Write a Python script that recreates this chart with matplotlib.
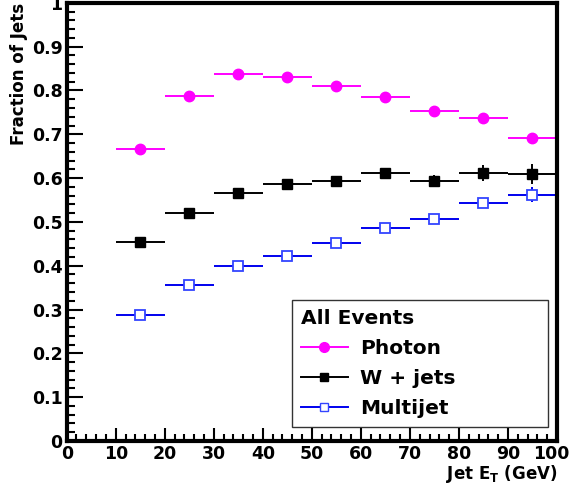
import numpy as np
import matplotlib.pyplot as plt
from matplotlib.lines import Line2D
from matplotlib.ticker import MultipleLocator

plt.rcParams['font.family'] = ['DejaVu Sans']
plt.rcParams['font.weight'] = 'bold'

# bin centres (GeV) and half widths
jet_et = [15, 25, 35, 45, 55, 65, 75, 85, 95]
bin_half = [5, 5, 5, 5, 5, 5, 5, 5, 5]

photon = [0.666, 0.787, 0.837, 0.831, 0.810, 0.785, 0.752, 0.737, 0.692]
photon_err = [0.004, 0.004, 0.004, 0.004, 0.004, 0.005, 0.005, 0.006, 0.007]

wjets = [0.455, 0.520, 0.566, 0.586, 0.594, 0.611, 0.594, 0.611, 0.609]
wjets_err = [0.006, 0.006, 0.007, 0.008, 0.009, 0.010, 0.012, 0.018, 0.022]

multijet = [0.287, 0.356, 0.399, 0.423, 0.452, 0.485, 0.507, 0.543, 0.562]
multijet_err = [0.004, 0.004, 0.005, 0.005, 0.006, 0.007, 0.009, 0.011, 0.017]

x_ticks = [0, 10, 20, 30, 40, 50, 60, 70, 80, 90, 100]
y_ticks = [0, 0.1, 0.2, 0.3, 0.4, 0.5, 0.6, 0.7, 0.8, 0.9, 1]
y_ticklabels = ['0', '0.1', '0.2', '0.3', '0.4', '0.5', '0.6', '0.7', '0.8', '0.9', '1']

fig = plt.figure(figsize=(5.71, 4.93), dpi=100)
ax = fig.add_axes([0.1168, 0.1055, 0.8587, 0.8888])

ax.errorbar(jet_et, photon, xerr=bin_half, yerr=photon_err, fmt='o',
            color='#ff00ff', ms=7.5, elinewidth=1.4, capsize=0)
ax.errorbar(jet_et, wjets, xerr=bin_half, yerr=wjets_err, fmt='s',
            color='black', ms=7, elinewidth=1.4, capsize=0)
ax.errorbar(jet_et, multijet, xerr=bin_half, yerr=multijet_err, fmt='s',
            color='#0000ee', mfc='white', mec='#3344ff', mew=1.3, ms=7.5,
            elinewidth=1.4, capsize=0)

ax.set_xlim(0, 100)
ax.set_ylim(0, 1)
ax.set_xticks(x_ticks)
# last label drawn separately, pulled in so it fits inside the figure
ax.set_xticklabels([str(v) for v in x_ticks[:-1]] + [''])
ax.xaxis.set_minor_locator(MultipleLocator(2))
ax.set_yticks(y_ticks)
ax.set_yticklabels(y_ticklabels)
ax.yaxis.set_minor_locator(MultipleLocator(0.02))

ax.tick_params(which='both', direction='in', top=False, right=False, width=1.5,
               labelsize=12.5, pad=3)
ax.tick_params(axis='y', which='major', length=11.5)
ax.tick_params(axis='y', which='minor', length=6)
ax.tick_params(axis='x', which='major', length=9.5)
ax.tick_params(axis='x', which='minor', length=5)
for s in ax.spines.values():
    s.set_linewidth(3)

ax.annotate(str(x_ticks[-1]), xy=(x_ticks[-1], 0), xycoords='data',
            xytext=(-4, -3), textcoords='offset points', ha='center', va='top',
            fontsize=12.5, fontweight='bold', annotation_clip=False)

ax.set_xlabel(r'Jet E$_\mathbf{T}$ (GeV)', fontsize=12, fontweight='bold',
              loc='right', labelpad=0)
ax.set_ylabel('Fraction of Jets', fontsize=12, fontweight='bold',
              loc='top', labelpad=3)

handles = [
    Line2D([], [], color='#ff00ff', marker='o', ms=7, lw=1.4),
    Line2D([], [], color='black', marker='s', ms=6, lw=1.4),
    Line2D([], [], color='#0000ee', marker='s', mfc='white', mec='#3344ff',
           ms=6, lw=1.4),
]
leg = ax.legend(handles, ['Photon', 'W + jets', 'Multijet'], title='All Events',
                loc='lower left', bbox_to_anchor=(0.46, 0.032, 0.522, 0.294),
                mode='expand', fontsize=14.5, title_fontsize=14.5,
                frameon=True, fancybox=False, edgecolor='black',
                handlelength=2.3, handletextpad=0.6, borderpad=0.45,
                labelspacing=0.55, borderaxespad=0)
leg._legend_box.align = 'left'
leg.get_title().set_fontweight('bold')
leg.get_frame().set_linewidth(1.0)

fig.savefig('out.png', dpi=100)
